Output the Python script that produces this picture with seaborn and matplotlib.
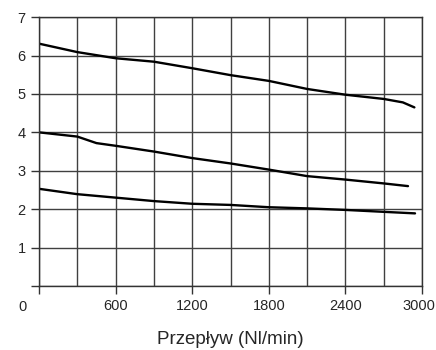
import numpy as np
import pandas as pd
import matplotlib
matplotlib.use("Agg")
import matplotlib.pyplot as plt
import matplotlib.transforms as mtransforms
import seaborn as sns

# flow (Nl/min) and pressure readings for three curves
flow_top = [0, 300, 600, 900, 1200, 1500, 1800, 2100, 2400, 2700, 2850, 2940]
pres_top = [6.31, 6.09, 5.93, 5.84, 5.67, 5.49, 5.34, 5.13, 4.98, 4.87, 4.78, 4.65]

flow_mid = [0, 300, 450, 600, 900, 1200, 1500, 1800, 2100, 2400, 2700, 2890]
pres_mid = [4.00, 3.89, 3.72, 3.65, 3.50, 3.33, 3.19, 3.03, 2.86, 2.77, 2.67, 2.60]

flow_low = [0, 300, 600, 900, 1200, 1500, 1800, 2100, 2400, 2700, 2945]
pres_low = [2.53, 2.39, 2.30, 2.21, 2.14, 2.11, 2.05, 2.02, 1.98, 1.93, 1.89]

x_ticks = [0, 600, 1200, 1800, 2400, 3000]
x_ticklabels = ["", "600", "1200", "1800", "2400", "3000"]
y_ticks = [0, 1, 2, 3, 4, 5, 6, 7]
y_ticklabels = ["", "1", "2", "3", "4", "5", "6", "7"]

df = pd.concat([
    pd.DataFrame({"flow": flow_top, "p": pres_top, "curve": "top"}),
    pd.DataFrame({"flow": flow_mid, "p": pres_mid, "curve": "mid"}),
    pd.DataFrame({"flow": flow_low, "p": pres_low, "curve": "low"}),
])

sns.set_style("white")
plt.rcParams["font.family"] = ["Liberation Sans", "DejaVu Sans"]

fig, ax = plt.subplots(figsize=(4.36, 3.5), dpi=100)
fig.subplots_adjust(left=0.0894, right=0.968, top=0.951, bottom=0.183)

sns.lineplot(data=df, x="flow", y="p", units="curve", estimator=None,
             color="black", linewidth=1.7, ax=ax, sort=False)

ax.set_xlim(0, 3000)
ax.set_ylim(0, 7)
ax.set_xticks(x_ticks)
ax.set_xticklabels(x_ticklabels)
ax.set_xticks(np.arange(0, 3001, 300), minor=True)
ax.set_yticks(y_ticks)
ax.set_yticklabels(y_ticklabels)

ax.grid(True, which="both", color="#404040", linewidth=1.0)
ax.tick_params(axis="both", which="major", direction="out", length=5.5, width=1,
               color="#333333", labelsize=10.5, pad=4, bottom=True, left=True)
ax.tick_params(axis="x", which="minor", length=0)
for s in ax.spines.values():
    s.set_color("#333333")
    s.set_linewidth(1.0)

# nudge the last x label left so it stays inside the figure
last = ax.get_xticklabels()[-1]
last.set_transform(last.get_transform() + mtransforms.ScaledTranslation(-3 / 100, 0, fig.dpi_scale_trans))

ax.annotate("0", xy=(0, 0), xycoords="axes fraction", xytext=(-12.2, -15.1),
            textcoords="offset points", ha="center", va="center", fontsize=10.5)

ax.set_xlabel("Przepływ (Nl/min)", fontsize=13.5, labelpad=13)
ax.set_ylabel("")

fig.savefig("out.png", dpi=100)
